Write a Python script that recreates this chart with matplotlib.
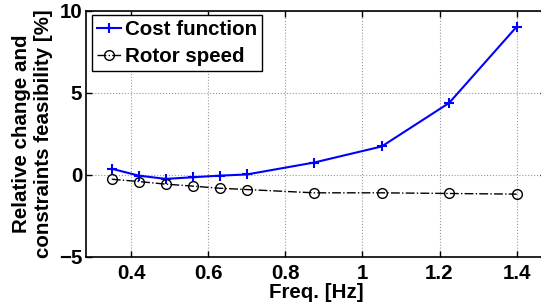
import matplotlib
matplotlib.use("Agg")
import matplotlib.pyplot as plt

freq = [0.35, 0.42, 0.49, 0.56, 0.63, 0.70, 0.875, 1.05, 1.225, 1.40]
cost_function = [0.37, -0.05, -0.25, -0.15, -0.05, 0.02, 0.75, 1.73, 4.39, 9.04]
rotor_speed = [-0.27, -0.41, -0.57, -0.69, -0.82, -0.90, -1.10, -1.10, -1.14, -1.18]

xticks = [0.4, 0.6, 0.8, 1.0, 1.2, 1.4]
xticklabels = ["0.4", "0.6", "0.8", "1", "1.2", "1.4"]
yticks = [-5, 0, 5, 10]

plt.rcParams['font.family'] = ['Liberation Sans', 'DejaVu Sans']
plt.rcParams['font.weight'] = 'bold'
plt.rcParams['axes.labelweight'] = 'bold'
fs = 14.8

fig = plt.figure(figsize=(5.41, 3.07), dpi=100)
ax = fig.add_axes([0.1584, 0.1638, 0.8508, 0.8004])

ax.plot(freq, cost_function, color='blue', linestyle='-', linewidth=1.5,
        marker='+', markersize=7.5, markeredgewidth=1.5, label='Cost function')
ax.plot(freq, rotor_speed, color='black', linestyle='-.', linewidth=1.0,
        marker='o', markersize=7, markerfacecolor='none', markeredgewidth=1.0,
        label='Rotor speed')

ax.set_xlim(0.2825, 1.476)
ax.set_ylim(-5, 10)
ax.set_xticks(xticks)
ax.set_xticklabels(xticklabels)
ax.set_yticks(yticks)
ax.set_yticklabels(["\u22125", "0", "5", "10"])

ax.grid(True, linestyle=':', color='#999999', linewidth=0.8)
ax.tick_params(direction='in', top=True, right=True, length=4, width=1.0,
               labelsize=fs)
ax.tick_params(axis='x', pad=5.5)
ax.tick_params(axis='y', pad=2.5)
for s in ax.spines.values():
    s.set_linewidth(1.2)

ax.set_xlabel("Freq. [Hz]", fontsize=fs, labelpad=0)
ax.set_ylabel("Relative change and\nconstraints feasibility [%]", fontsize=fs,
              labelpad=4)

leg = ax.legend(loc='upper left', bbox_to_anchor=(0.013, 0.985),
                borderaxespad=0, fontsize=fs, handlelength=1.2,
                handletextpad=0.15, labelspacing=0.4, borderpad=0.25,
                fancybox=False, framealpha=1, edgecolor='black')
leg.get_frame().set_linewidth(1.0)

fig.savefig("out.png", dpi=100)
